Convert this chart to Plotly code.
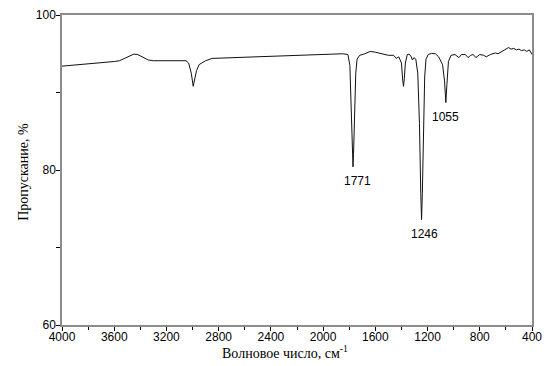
import plotly.graph_objects as go

wavenumber = [4000, 3900, 3800, 3700, 3620, 3600, 3560, 3520, 3480, 3450, 3420, 3380, 3340, 3300,
              3200, 3100, 3050, 3030, 3010, 2995, 2985, 2970, 2950, 2900, 2850, 2700, 2500, 2300,
              2100, 1950, 1850, 1810, 1795, 1785, 1775, 1771, 1767, 1760, 1750, 1740, 1720, 1680,
              1640, 1600, 1560, 1500, 1460, 1440, 1420, 1400, 1390, 1384, 1378, 1370, 1355, 1340,
              1325, 1316, 1305, 1290, 1275, 1262, 1252, 1246, 1240, 1232, 1222, 1212, 1195, 1170,
              1140, 1115, 1100, 1085, 1070, 1060, 1052, 1040, 1020, 990, 960, 940, 910, 890, 870,
              850, 830, 800, 770, 750, 720, 700, 680, 660, 640, 620, 600, 580, 560, 540, 520, 500,
              480, 460, 440, 420, 400]
transmittance = [93.4, 93.55, 93.7, 93.8, 93.9, 94.0, 94.1, 94.4, 94.8, 94.95, 94.9, 94.5, 94.2, 94.1,
                 94.1, 94.15, 94.1, 93.8, 92.5, 90.8, 91.6, 92.8, 93.6, 94.1, 94.4, 94.5, 94.6, 94.7,
                 94.85, 94.95, 95.0, 94.9, 93.5, 88.0, 81.5, 80.4, 82.0, 88.0, 92.5, 94.3, 94.8, 95.0,
                 95.3, 95.2, 95.0, 94.8, 94.8, 94.4, 94.6, 93.8, 91.5, 90.8, 91.8, 93.8, 94.9, 94.95,
                 94.6, 94.2, 94.5, 94.3, 92.5, 86.0, 77.0, 73.6, 77.0, 85.0, 92.0, 94.3, 94.9, 95.05,
                 95.0, 94.6, 94.0, 93.6, 91.5, 88.7, 91.0, 94.0, 94.8, 94.9, 94.5, 94.9, 94.9, 94.5, 94.8,
                 94.9, 94.5, 94.9, 94.8, 94.6, 94.9, 95.0, 95.1, 95.0, 95.2, 95.3, 95.5, 95.8, 95.6, 95.7,
                 95.5, 95.6, 95.4, 95.5, 95.3, 95.5, 94.9]

peak_labels = ["1771", "1246", "1055"]
peak_wn = [1771, 1246, 1060]
label_dx = [4, 3, 0]

x_ticks = [4000, 3600, 3200, 2800, 2400, 2000, 1600, 1200, 800, 400]
y_ticks = [60, 80, 100]

x_title = "Волновое число, см<sup>-1</sup>"
y_title = "Пропускание, %"

fig = go.Figure()
fig.add_trace(go.Scatter(x=wavenumber, y=transmittance, mode="lines",
                         line=dict(color="#111111", width=1), showlegend=False))

for lab, wn, dx in zip(peak_labels, peak_wn, label_dx):
    t = transmittance[wavenumber.index(wn)]
    fig.add_annotation(x=wn, y=t, text=lab, showarrow=False, xanchor="center", yanchor="top",
                       yshift=-5, xshift=dx,
                       font=dict(family="Liberation Sans, Arial", size=12, color="black"))

title_font = dict(family="Liberation Serif, Times New Roman", size=14, color="black")
fig.add_annotation(xref="paper", yref="paper", x=0.4745, y=0, yshift=-27, text=x_title,
                   showarrow=False, xanchor="center", yanchor="middle", font=title_font)
fig.add_annotation(xref="paper", yref="paper", x=0, y=0.494, xshift=-38, text=y_title,
                   textangle=-90, showarrow=False, xanchor="center", yanchor="middle", font=title_font)

axis_common = dict(showline=True, linecolor="#8c8c8c", linewidth=1.5, mirror=True, automargin=False,
                   showgrid=False, zeroline=False, ticks="outside", ticklen=4, tickcolor="black",
                   tickfont=dict(family="Liberation Sans, Arial", size=12, color="black"))

fig.update_xaxes(range=[4000, 400], tickvals=x_ticks, ticktext=[str(v) for v in x_ticks],
                 ticklabelstandoff=-4,
                 minor=dict(dtick=200, ticks="outside", ticklen=3, tickcolor="black"),
                 **axis_common)
fig.update_yaxes(range=[60, 100], tickvals=y_ticks, ticktext=[str(v) for v in y_ticks],
                 ticklabelstandoff=-2,
                 minor=dict(dtick=10, ticks="outside", ticklen=4, tickcolor="black"),
                 **axis_common)

fig.update_layout(width=546, height=366, margin=dict(l=62, r=14, t=15, b=41),
                  plot_bgcolor="white", paper_bgcolor="white")

# Remove the browser's default 8px body margin so the figure fills the window exactly.
fig.write_html("out.html", config={"displayModeBar": False},
               post_script="document.body.style.margin='0';document.body.style.overflow='hidden';")
